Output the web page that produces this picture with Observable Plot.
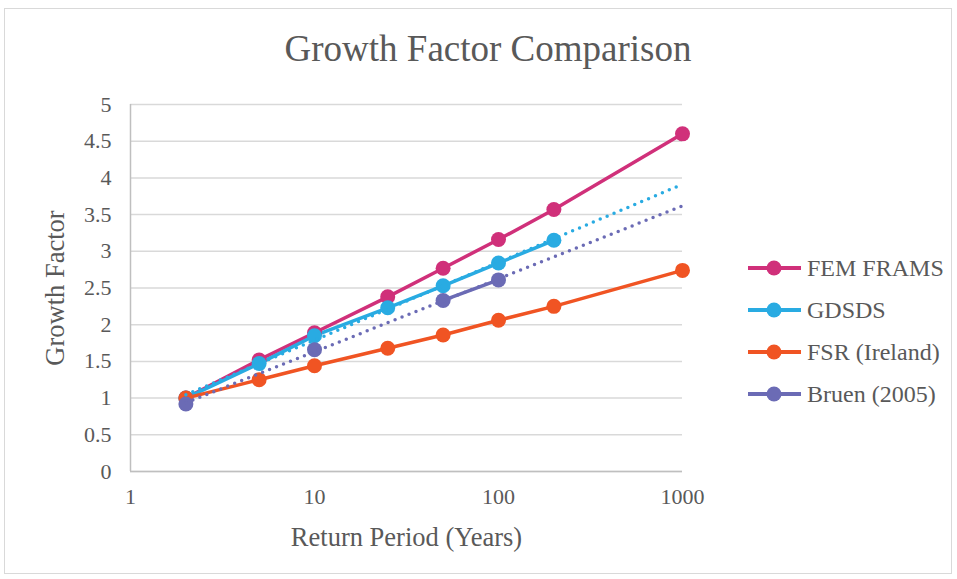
<!DOCTYPE html>
<html>
<head>
<meta charset="utf-8">
<script src="https://cdn.jsdelivr.net/npm/d3@7"></script>
<script src="https://cdn.jsdelivr.net/npm/@observablehq/plot@0.6"></script>
<style>
  html, body { margin: 0; padding: 0; background: #fff; }
  #wrap { position: relative; width: 957px; height: 579px; overflow: hidden; font-family: "Liberation Serif", Tinos, "Times New Roman", serif; }
  #border { position: absolute; left: 4px; top: 8px; width: 948px; height: 566px; border: 1px solid #d9d9d9; box-sizing: border-box; }
  #title { position: absolute; left: 0; width: 976px; top: 28px; text-align: center; font-size: 37px; line-height: 42px; color: #595959; }
  #chart { position: absolute; left: 0; top: 0; }
  #legend { position: absolute; left: 747px; top: 247px; font-size: 24px; color: #595959; }
  .item { display: flex; align-items: center; height: 42px; }
  .item svg { margin-right: 5px; }
</style>
</head>
<body>
<div id="wrap">
  <div id="border"></div>
  <div id="chart"></div>
  <div id="title">Growth Factor Comparison</div>
  <div id="legend"></div>
</div>
<script>
const returnPeriods = [2, 5, 10, 25, 50, 100, 200, 1000];
const femFrams = [1.00, 1.52, 1.89, 2.38, 2.77, 3.16, 3.57, 4.60];
const gdsds = [1.00, 1.47, 1.85, 2.23, 2.53, 2.84, 3.15, null];
const fsr = [1.00, 1.25, 1.44, 1.68, 1.86, 2.06, 2.25, 2.74];
const bruen = [0.92, null, 1.66, null, 2.33, 2.61, null, null];
const seriesNames = ["FEM FRAMS", "GDSDS", "FSR (Ireland)", "Bruen (2005)"];
const colors = ["#D0307A", "#29ABE2", "#F05423", "#6B6BB5"];
const xTicks = [1, 10, 100, 1000];
const yTicks = [0, 0.5, 1, 1.5, 2, 2.5, 3, 3.5, 4, 4.5, 5];

const seriesValues = [femFrams, gdsds, fsr, bruen];
const rows = [];
seriesValues.forEach((vals, s) => vals.forEach((v, i) =>
  rows.push({series: seriesNames[s], x: returnPeriods[i], y: v == null ? NaN : v})));
const pts = rows.filter(d => !isNaN(d.y));

// Logarithmic trendlines (least squares of y on log10 x), as in the spreadsheet chart
function trend(vals, name) {
  const xs = [], ys = [];
  vals.forEach((v, i) => { if (v != null) { xs.push(Math.log10(returnPeriods[i])); ys.push(v); } });
  const mx = d3.mean(xs), my = d3.mean(ys);
  const b = d3.sum(xs.map((v, i) => (v - mx) * (ys[i] - my))) / d3.sum(xs.map(v => (v - mx) ** 2));
  const a = my - b * mx;
  const ends = [returnPeriods[0], returnPeriods[returnPeriods.length - 1]];
  return ends.map(x => ({series: name, x, y: a + b * Math.log10(x)}));
}
const trends = [...trend(gdsds, seriesNames[1]), ...trend(bruen, seriesNames[3])];

const color = {domain: seriesNames, range: colors};
const serif = "'Liberation Serif', Tinos, 'Times New Roman', serif";

const chart = Plot.plot({
  width: 957,
  height: 579,
  marginLeft: 130,
  marginRight: 275,
  marginTop: 104,
  marginBottom: 108,
  style: {fontFamily: serif, fontSize: "22px", color: "#595959", background: "transparent", overflow: "visible"},
  x: {type: "log", domain: [1, 1000]},
  y: {domain: [0, 5]},
  color,
  marks: [
    Plot.gridY(yTicks, {stroke: "#d9d9d9", strokeOpacity: 1, strokeWidth: 1.5}),
    Plot.ruleY([0], {stroke: "#bfbfbf", strokeWidth: 1.5}),
    Plot.ruleX([1], {stroke: "#bfbfbf", strokeWidth: 1.5}),
    Plot.axisY(yTicks, {tickSize: 0, tickPadding: 19, tickFormat: d => String(d), fontSize: 22, fill: "#595959",
      label: "Growth Factor", labelAnchor: "center", labelArrow: "none", labelOffset: 85}),
    Plot.axisX(xTicks, {tickSize: 0, tickPadding: 17, tickFormat: d => String(d), fontSize: 22, fill: "#595959",
      label: "Return Period (Years)", labelAnchor: "center", labelArrow: "none", labelOffset: 74}),
    Plot.line(rows, {x: "x", y: "y", z: "series", stroke: "series", strokeWidth: 3.5}),
    Plot.dot(pts, {x: "x", y: "y", fill: "series", r: 7.5}),
    Plot.line(trends, {x: "x", y: "y", z: "series", stroke: "series", strokeWidth: 3.5, strokeDasharray: "0 7.5", strokeLinecap: "round"})
  ]
});
chart.querySelectorAll("[aria-label='y-axis label'] text, [aria-label='x-axis label'] text").forEach(t => {
  t.setAttribute("font-size", "26.5px");
  t.setAttribute("fill", "#595959");
});
document.getElementById("chart").appendChild(chart);

const legend = document.getElementById("legend");
seriesNames.forEach((name, i) => {
  const div = document.createElement("div");
  div.className = "item";
  div.innerHTML = `<svg width="55" height="18"><line x1="1" x2="54" y1="9" y2="9" stroke="${colors[i]}" stroke-width="4"/><circle cx="27" cy="9" r="7.5" fill="${colors[i]}"/></svg><span>${name}</span>`;
  legend.appendChild(div);
});
</script>
</body>
</html>
